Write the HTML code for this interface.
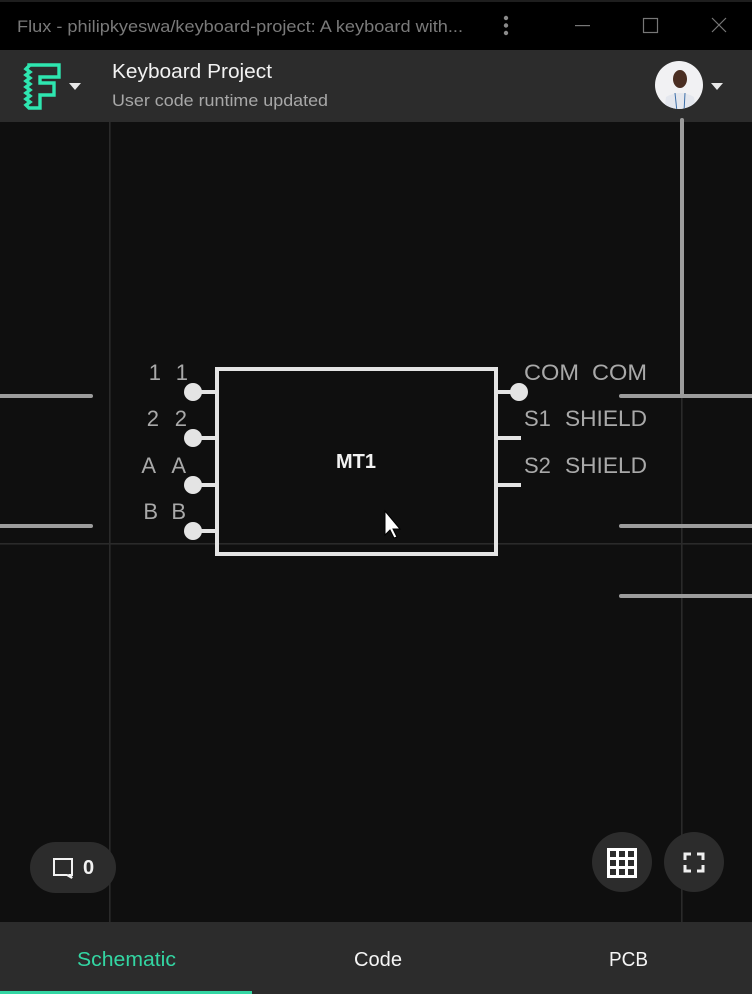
<!DOCTYPE html>
<html><head><meta charset="utf-8">
<style>
html,body{margin:0;padding:0;width:752px;height:994px;overflow:hidden;background:#0f0f0f;font-family:"Liberation Sans",sans-serif;}
svg{display:block;}
</style></head>
<body>
<svg width="752" height="994" viewBox="0 0 752 994" xmlns="http://www.w3.org/2000/svg" font-family="Liberation Sans, sans-serif">
  <!-- title bar -->
  <rect x="0" y="0" width="752" height="50" fill="#000"/>
  <rect x="0" y="0" width="752" height="2" fill="#1e1e1e"/>
  <text x="17" y="32" font-size="17" fill="#7a7a7a" textLength="446" lengthAdjust="spacingAndGlyphs">Flux - philipkyeswa/keyboard-project: A keyboard with...</text>
  <circle cx="506" cy="18" r="2.2" fill="#8a8a8a"/>
  <circle cx="506" cy="25.5" r="2.2" fill="#8a8a8a"/>
  <circle cx="506" cy="33" r="2.2" fill="#8a8a8a"/>
  <rect x="575" y="25" width="15" height="1.2" fill="#777"/>
  <rect x="643.5" y="18.5" width="14" height="14" fill="none" stroke="#777" stroke-width="1.2"/>
  <path d="M712 18 L726 32 M726 18 L712 32" stroke="#777" stroke-width="1.2"/>

  <!-- header -->
  <rect x="0" y="50" width="752" height="72" fill="#2c2c2c"/>
  <path d="M29 65 L59 65 L59 77 L40 77 L40 83 L54 83 L54 95 L40 95 L40 108 L29 108 L26 105 L30 102 L26 99 L30 96 L26 93 L30 90 L26 87 L30 84 L26 81 L30 78 L26 75 L30 72 L26 69 L29 66 Z" fill="none" stroke="#2ee6b0" stroke-width="3.4" stroke-linejoin="miter"/>
  <path d="M69 83 L81 83 L75 90 Z" fill="#e8e8e8"/>
  <text x="112" y="78" font-size="20" fill="#f2f2f2" textLength="160" lengthAdjust="spacingAndGlyphs">Keyboard Project</text>
  <text x="112" y="106" font-size="17" fill="#a8a8a8" textLength="216" lengthAdjust="spacingAndGlyphs">User code runtime updated</text>
  <!-- avatar -->
  <defs><clipPath id="av"><circle cx="679" cy="85" r="24"/></clipPath></defs>
  <circle cx="679" cy="85" r="24" fill="#f1f1f3"/>
  <g clip-path="url(#av)">
    <ellipse cx="680" cy="79" rx="7" ry="9" fill="#4a2e22"/>
    <path d="M664 112 L666 97 Q680 89 694 97 L696 112 Z" fill="#e4e7ee"/>
    <path d="M675 93 L677 112 M685 93 L684 112" stroke="#3b6ea8" stroke-width="1"/>
  </g>
  <path d="M711 83 L723 83 L717 90 Z" fill="#e8e8e8"/>

  <!-- canvas -->
  <rect x="0" y="122" width="752" height="800" fill="#0f0f0f"/>
  <rect x="109" y="122" width="1.6" height="800" fill="#2a2a2a"/>
  <rect x="0" y="543" width="752" height="1.6" fill="#2a2a2a"/>
  <rect x="681" y="396" width="1.6" height="526" fill="#2a2a2a"/>

  <!-- wires -->
  <g stroke="#9c9c9c" stroke-width="4" stroke-linecap="round" fill="none">
    <line x1="-2" y1="396" x2="91" y2="396"/>
    <line x1="-2" y1="526" x2="91" y2="526"/>
    <line x1="682" y1="120" x2="682" y2="396"/>
    <line x1="621" y1="396" x2="754" y2="396"/>
    <line x1="621" y1="526" x2="754" y2="526"/>
    <line x1="621" y1="596" x2="754" y2="596"/>
  </g>

  <!-- component -->
  <rect x="217" y="369" width="279" height="185" fill="none" stroke="#e4e4e4" stroke-width="4"/>
  <g stroke="#e4e4e4" stroke-width="4">
    <line x1="193" y1="392" x2="217" y2="392"/>
    <line x1="193" y1="438" x2="217" y2="438"/>
    <line x1="193" y1="485" x2="217" y2="485"/>
    <line x1="193" y1="531" x2="217" y2="531"/>
    <line x1="496" y1="392" x2="519" y2="392"/>
    <line x1="496" y1="438" x2="521" y2="438"/>
    <line x1="496" y1="485" x2="521" y2="485"/>
  </g>
  <g fill="#e4e4e4">
    <circle cx="193" cy="392" r="9"/>
    <circle cx="193" cy="438" r="9"/>
    <circle cx="193" cy="485" r="9"/>
    <circle cx="193" cy="531" r="9"/>
    <circle cx="519" cy="392" r="9"/>
  </g>
  <g font-size="22" fill="#a9a9a9">
    <text x="161" y="380" text-anchor="end">1</text>
    <text x="188" y="380" text-anchor="end">1</text>
    <text x="159" y="426" text-anchor="end">2</text>
    <text x="187" y="426" text-anchor="end">2</text>
    <text x="156" y="473" text-anchor="end">A</text>
    <text x="186" y="473" text-anchor="end">A</text>
    <text x="158" y="519" text-anchor="end">B</text>
    <text x="186" y="519" text-anchor="end">B</text>
    <text x="524" y="380" textLength="55" lengthAdjust="spacingAndGlyphs">COM</text>
    <text x="592" y="380" textLength="55" lengthAdjust="spacingAndGlyphs">COM</text>
    <text x="524" y="426">S1</text>
    <text x="565" y="426" textLength="82" lengthAdjust="spacingAndGlyphs">SHIELD</text>
    <text x="524" y="473">S2</text>
    <text x="565" y="473" textLength="82" lengthAdjust="spacingAndGlyphs">SHIELD</text>
  </g>
  <text x="356" y="468" font-size="20" font-weight="bold" fill="#f2f2f2" text-anchor="middle">MT1</text>

  <!-- cursor -->
  <path d="M385 511 L385 535 L390 530 L394 538 L397 537 L393 529 L400 529 Z" fill="#fff" stroke="#000" stroke-width="1"/>

  <!-- comment button -->
  <rect x="30" y="842" width="86" height="51" rx="25.5" fill="#2c2c2c"/>
  <path d="M54 859 L72 859 L72 875 L70 875 L72 878 L67 875 L54 875 Z" fill="none" stroke="#f2f2f2" stroke-width="2"/>
  <text x="83" y="874" font-size="20" font-weight="bold" fill="#f2f2f2">0</text>

  <!-- grid button -->
  <circle cx="622" cy="862" r="30" fill="#2c2c2c"/>
  <rect x="607" y="848" width="30" height="30" fill="#fff"/>
  <g fill="#2c2c2c">
    <rect x="610" y="851" width="6" height="6"/><rect x="619" y="851" width="6" height="6"/><rect x="628" y="851" width="6" height="6"/>
    <rect x="610" y="860" width="6" height="6"/><rect x="619" y="860" width="6" height="6"/><rect x="628" y="860" width="6" height="6"/>
    <rect x="610" y="869" width="6" height="6"/><rect x="619" y="869" width="6" height="6"/><rect x="628" y="869" width="6" height="6"/>
  </g>
  <!-- fullscreen button -->
  <circle cx="694" cy="862" r="30" fill="#2c2c2c"/>
  <path d="M685 860 L685 854 L691 854 M697 854 L703 854 L703 860 M703 865 L703 871 L697 871 M691 871 L685 871 L685 865" fill="none" stroke="#f0f0f0" stroke-width="3"/>

  <!-- tab bar -->
  <rect x="0" y="922" width="752" height="72" fill="#2c2c2c"/>
  <text x="77" y="966" font-size="20" fill="#33d6a3" textLength="99" lengthAdjust="spacingAndGlyphs">Schematic</text>
  <text x="354" y="966" font-size="20" fill="#f5f5f5" textLength="48" lengthAdjust="spacingAndGlyphs">Code</text>
  <text x="609" y="966" font-size="20" fill="#f5f5f5" textLength="39" lengthAdjust="spacingAndGlyphs">PCB</text>
  <rect x="0" y="991" width="252" height="3" fill="#33d6a3"/>
</svg>
</body></html>
